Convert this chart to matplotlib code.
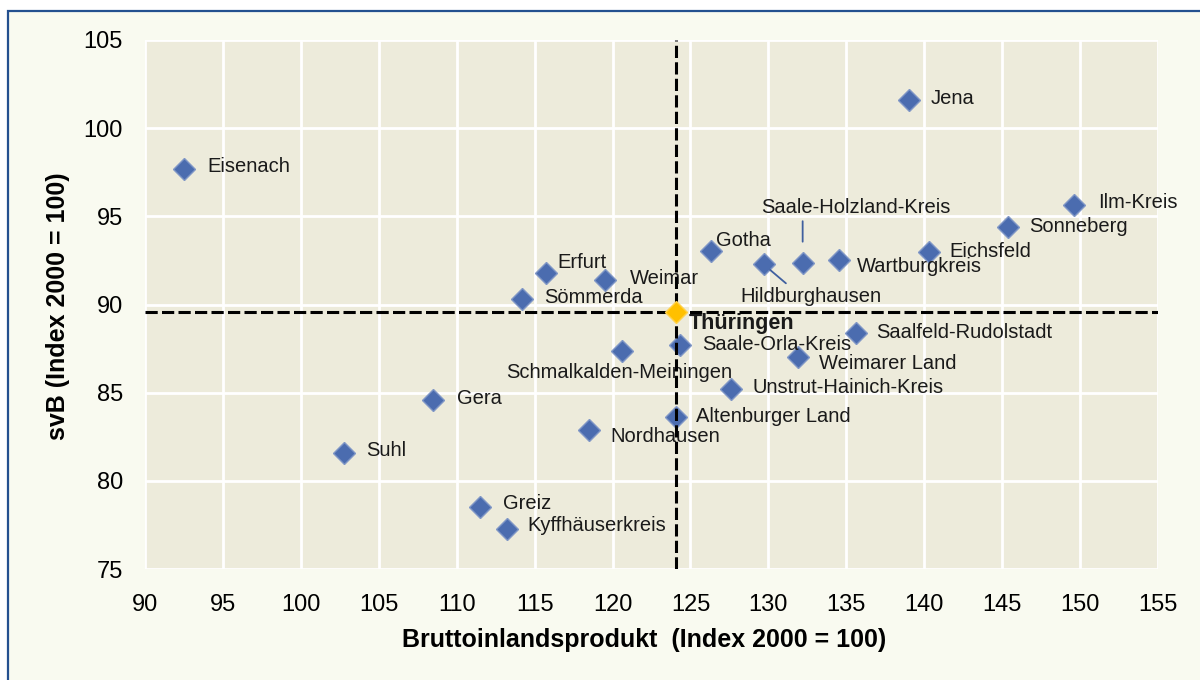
import numpy as np
import matplotlib
matplotlib.use('Agg')
import matplotlib.pyplot as plt
from matplotlib.patches import Rectangle

plt.rcParams['font.family'] = ['Liberation Sans', 'DejaVu Sans']

# data
names = ['Eisenach', 'Jena', 'Ilm-Kreis', 'Sonneberg', 'Eichsfeld', 'Wartburgkreis',
         'Saale-Holzland-Kreis', 'Hildburghausen', 'Gotha', 'Erfurt', 'Weimar',
         'Sömmerda', 'Saale-Orla-Kreis', 'Schmalkalden-Meiningen', 'Saalfeld-Rudolstadt',
         'Weimarer Land', 'Unstrut-Hainich-Kreis', 'Altenburger Land', 'Nordhausen',
         'Gera', 'Suhl', 'Greiz', 'Kyffhäuserkreis']
bip = [92.5, 139.0, 149.6, 145.4, 140.3, 134.5,
       132.2, 129.7, 126.3, 115.7, 119.5,
       114.2, 124.3, 120.6, 135.6,
       131.9, 127.6, 124.1, 118.5,
       108.5, 102.8, 111.5, 113.2]
svb = [97.7, 101.6, 95.65, 94.4, 92.95, 92.5,
       92.38, 92.27, 93.06, 91.8, 91.4,
       90.34, 87.68, 87.34, 88.4,
       87.0, 85.2, 83.6, 82.9,
       84.6, 81.57, 78.5, 77.27]
thueringen_bip = 124.06
thueringen_svb = 89.55

# label offsets in pixels (dx, dy, ha)
offsets = {
    'Eisenach': (23, 2, 'left'), 'Jena': (22, 1, 'left'), 'Ilm-Kreis': (24, 2, 'left'),
    'Sonneberg': (21, 0, 'left'), 'Eichsfeld': (20, 1, 'left'),
    'Wartburgkreis': (18, -6, 'left'), 'Saale-Holzland-Kreis': (53, 55, 'center'),
    'Hildburghausen': (47, -32, 'center'), 'Gotha': (5, 10, 'left'),
    'Erfurt': (12, 10, 'left'), 'Weimar': (25, 1, 'left'), 'Sömmerda': (22, 1, 'left'),
    'Saale-Orla-Kreis': (23, 1, 'left'), 'Schmalkalden-Meiningen': (-3, -21, 'center'),
    'Saalfeld-Rudolstadt': (20, 0, 'left'), 'Weimarer Land': (21, -6, 'left'),
    'Unstrut-Hainich-Kreis': (22, 2, 'left'), 'Altenburger Land': (20, 1, 'left'),
    'Nordhausen': (21, -7, 'left'), 'Gera': (24, 1, 'left'), 'Suhl': (22, 3, 'left'),
    'Greiz': (23, 4, 'left'), 'Kyffhäuserkreis': (21, 3, 'left'),
}

fig = plt.figure(figsize=(12, 6.8), dpi=100, facecolor='white')
frame = Rectangle((8 / 1200, -0.05), 1.1, (680 - 11) / 680 + 0.05,
                  transform=fig.transFigure, facecolor='#F9FAF0',
                  edgecolor='#24508F', lw=1.6, zorder=-10)
fig.patches.append(frame)

ax = fig.add_axes([145 / 1200, 111 / 680, 1013 / 1200, 529 / 680])
ax.set_facecolor('#EDEBDB')
for s in ax.spines.values():
    s.set_visible(False)

ax.set_xlim(90, 155)
ax.set_ylim(75, 105)
ax.set_xticks(np.arange(90, 156, 5))
ax.set_yticks(np.arange(75, 106, 5))
ax.grid(True, color='white', lw=2)
ax.set_axisbelow(True)
ax.tick_params(length=0, labelsize=17)
ax.tick_params(axis='x', pad=18)
ax.tick_params(axis='y', pad=16)

ax.plot(bip, svb, 'D', ms=11.5, mfc='#4B6CAF', mec='#8097C6', mew=1, zorder=3)

ax.axvline(thueringen_bip, color='black', lw=2.2, ls=(0, (4, 1.4)), zorder=5)
ax.axhline(thueringen_svb, color='black', lw=2.2, ls=(0, (4, 1.4)), zorder=5)
ax.plot([thueringen_bip], [thueringen_svb], 'D', ms=11.5, mfc='#FFC000',
        mec='#FFD24D', mew=1, zorder=6)

for n, x, y in zip(names, bip, svb):
    dx, dy, ha = offsets[n]
    kw = {}
    if n == 'Saale-Holzland-Kreis':
        kw['arrowprops'] = dict(arrowstyle='-', color='#3F5F9F', lw=1.3,
                                relpos=(0.22, 0), shrinkA=1, shrinkB=15)
    elif n == 'Hildburghausen':
        kw['arrowprops'] = dict(arrowstyle='-', color='#3F5F9F', lw=1.3,
                                relpos=(0.355, 1), shrinkA=1, shrinkB=6)
    ax.annotate(n, xy=(x, y), xytext=(dx, dy), textcoords='offset pixels',
                ha=ha, va='center', fontsize=14.5, color='#1a1a1a', zorder=4, **kw)

ax.annotate('Thüringen', xy=(thueringen_bip, thueringen_svb), xytext=(13, -11),
            textcoords='offset pixels', ha='left', va='center', fontsize=15.5,
            fontweight='bold', color='#1a1a1a', zorder=4)

ax.set_xlabel('Bruttoinlandsprodukt  (Index 2000 = 100)', fontsize=18, fontweight='bold')
ax.set_ylabel('svB (Index 2000 = 100)', fontsize=18, fontweight='bold')
ax.xaxis.set_label_coords(0.493, -0.134)
ax.xaxis.label.set_va('center')
ax.yaxis.set_label_coords(-0.086, 0.497)
ax.yaxis.label.set_va('center')

fig.savefig('out.png', dpi=100, facecolor=fig.get_facecolor())
